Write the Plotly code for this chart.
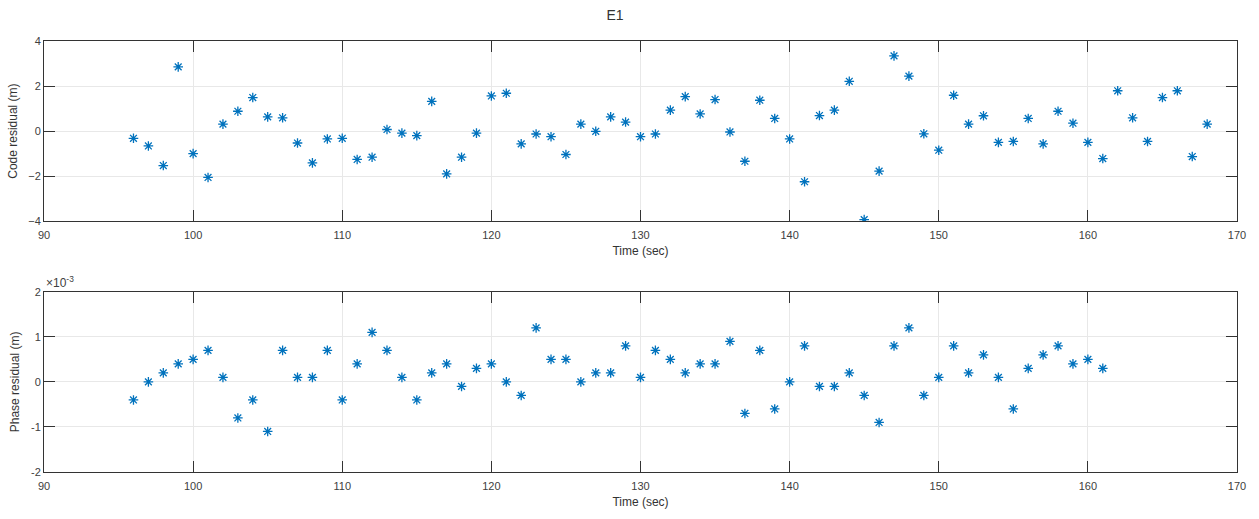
import plotly.graph_objects as go
from plotly.subplots import make_subplots

time_code = list(range(96, 169))
code_residual = [-0.32, -0.66, -1.53, 2.85, -1.0, -2.06, 0.31, 0.88, 1.49, 0.63,
                 0.59, -0.53, -1.41, -0.35, -0.32, -1.26, -1.16, 0.07, -0.09, -0.2,
                 1.32, -1.9, -1.16, -0.09, 1.56, 1.68, -0.57, -0.13, -0.25, -1.04,
                 0.31, -0.01, 0.63, 0.4, -0.25, -0.13, 0.93, 1.53, 0.76, 1.4,
                 -0.04, -1.34, 1.37, 0.56, -0.35, -2.25, 0.69, 0.93, 2.21, -3.93,
                 -1.78, 3.34, 2.44, -0.12, -0.85, 1.59, 0.31, 0.68, -0.5, -0.46,
                 0.56, -0.57, 0.88, 0.35, -0.5, -1.22, 1.79, 0.59, -0.46, 1.49,
                 1.79, -1.13, 0.31]

time_phase = list(range(96, 162))
phase_residual_e3 = [-0.4, 0.0, 0.2, 0.4, 0.5, 0.7, 0.1, -0.8, -0.4, -1.1,
                     0.7, 0.1, 0.1, 0.7, -0.4, 0.4, 1.1, 0.7, 0.1, -0.4,
                     0.2, 0.4, -0.1, 0.3, 0.4, 0.0, -0.3, 1.2, 0.5, 0.5,
                     0.0, 0.2, 0.2, 0.8, 0.1, 0.7, 0.5, 0.2, 0.4, 0.4,
                     0.9, -0.7, 0.7, -0.6, 0.0, 0.8, -0.1, -0.1, 0.2, -0.3,
                     -0.9, 0.8, 1.2, -0.3, 0.1, 0.8, 0.2, 0.6, 0.1, -0.6,
                     0.3, 0.6, 0.8, 0.4, 0.5, 0.3]
phase_residual = [v * 1e-3 for v in phase_residual_e3]

x_ticks = [90, 100, 110, 120, 130, 140, 150, 160, 170]
code_ticks = [-4, -2, 0, 2, 4]
phase_ticks = [-2e-3, -1e-3, 0, 1e-3, 2e-3]
phase_tick_labels = ["-2", "-1", "0", "1", "2"]

BLUE = "#0072BD"
AXC = "#404040"
FONT = "Liberation Sans, Arial"
W, H = 1259, 519
L, R, T, B = 44, 22, 41, 45

fig = make_subplots(rows=2, cols=1, vertical_spacing=(293 - 222) / (H - T - B))

marker = dict(symbol="asterisk-open", size=8, color=BLUE, line=dict(color=BLUE, width=1.3))
fig.add_trace(go.Scatter(x=time_code, y=code_residual, mode="markers", marker=marker,
                         showlegend=False), row=1, col=1)
fig.add_trace(go.Scatter(x=time_phase, y=phase_residual, mode="markers", marker=marker,
                         showlegend=False), row=2, col=1)

axis_common = dict(showline=True, linecolor="#333333", linewidth=1, mirror="ticks",
                   ticks="inside", ticklen=11, tickcolor="#333333", tickwidth=1,
                   showgrid=True, gridcolor="#e8e8e8", gridwidth=1, zeroline=False,
                   tickfont=dict(family=FONT, size=11, color=AXC))

for r in (1, 2):
    fig.update_xaxes(range=[90, 170], tickvals=x_ticks, row=r, col=1, ticklabelstandoff=4,
                     title=dict(text="Time (sec)", standoff=6,
                                font=dict(family=FONT, size=12, color="#333333")),
                     **axis_common)

fig.update_yaxes(range=[-4, 4], tickvals=code_ticks, row=1, col=1,
                 title=dict(text="Code residual (m)", standoff=8,
                            font=dict(family=FONT, size=12, color="#333333")),
                 **axis_common)
fig.update_yaxes(range=[-2e-3, 2e-3], tickvals=phase_ticks, ticktext=phase_tick_labels,
                 row=2, col=1,
                 title=dict(text="Phase residual (m)", standoff=8,
                            font=dict(family=FONT, size=12, color="#333333")),
                 **axis_common)

fig.add_annotation(text="×10<sup>-3</sup>", xref="paper", yref="paper", x=0,
                   y=fig.layout.yaxis2.domain[1], yshift=0,
                   xanchor="left", yanchor="bottom", showarrow=False,
                   font=dict(family=FONT, size=12, color=AXC))

fig.update_layout(
    width=W, height=H,
    margin=dict(l=L, r=R, t=T, b=B),
    paper_bgcolor="white", plot_bgcolor="white",
    title=dict(text="E1", x=615 / W, xanchor="center", y=1 - 15 / H, yanchor="middle",
               font=dict(family=FONT, size=14, color="#333333")),
)

fig.write_html("out.html", config={"displayModeBar": False},
               post_script="document.body.style.margin='0';document.body.style.padding='0';")
